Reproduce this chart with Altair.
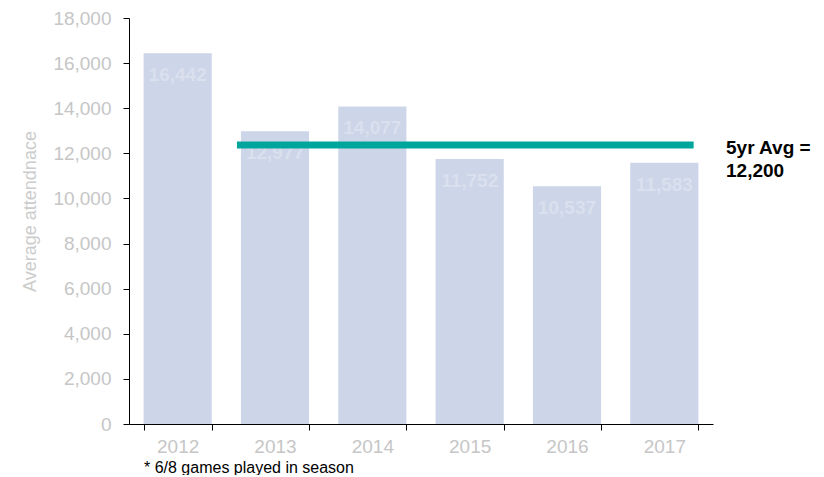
import altair as alt
import pandas as pd

years = ["2012", "2013", "2014", "2015", "2016", "2017"]
attendance = [16442, 12977, 14077, 11752, 10537, 11583]
labels = ["16,442", "12,977", "14,077", "11,752", "10,537", "11,583"]
avg_start_year = "2013"
avg_end_year = "2017"
avg_line_value = 12370
avg_text = ["5yr Avg =", "12,200"]
footnote = "* 6/8 games played in season"
y_title = "Average attendnace"

df = pd.DataFrame({"year": years, "value": attendance, "label": labels})
avg_df = pd.DataFrame({"start": [avg_start_year], "end": [avg_end_year], "v": [avg_line_value]})

W, H = 584, 406
xscale = alt.Scale(domain=years, paddingInner=0.3, paddingOuter=0.15)
yscale = alt.Scale(domain=[0, 18000], nice=False)

bars = alt.Chart(df).mark_bar(color="#cdd5e8").encode(
    x=alt.X("year:N", scale=xscale, sort=years, title=None,
            axis=alt.Axis(labelAngle=0, labelColor="#c6c6c6", labelFontSize=19,
                          labelFont="Liberation Sans", tickBand="extent",
                          domainColor="#000000", tickColor="#000000", tickSize=6,
                          labelPadding=7, grid=False)),
    y=alt.Y("value:Q", scale=yscale,
            axis=alt.Axis(values=list(range(0, 18001, 2000)), format=",d",
                          labelColor="#c6c6c6", labelFontSize=19, labelFont="Liberation Sans",
                          domainColor="#000000", tickColor="#000000", tickSize=6,
                          labelPadding=12, grid=False,
                          title=y_title, titleColor="#cccccc", titleFontSize=18,
                          titleFont="Liberation Sans", titleFontWeight="normal",
                          titleX=-99, titleY=193, titleAngle=270, titleBaseline="middle",
                          titleAlign="center")),
)

bar_text = alt.Chart(df).mark_text(
    color="#dae0ee", fontSize=19, fontWeight="bold", font="Liberation Sans",
    baseline="middle", dy=22
).encode(
    x=alt.X("year:N", scale=xscale, sort=years),
    y=alt.Y("value:Q", scale=yscale),
    text="label:N",
)

avg_line = alt.Chart(avg_df).mark_rule(color="#00a59c", strokeWidth=7, xOffset=-4).encode(
    x=alt.X("start:N", scale=xscale, bandPosition=0),
    x2=alt.X2("end:N", bandPosition=0.93),
    y=alt.Y("v:Q", scale=yscale),
)

avg_label = alt.Chart(pd.DataFrame({"t": [avg_text]})).mark_text(
    align="left", baseline="middle", fontSize=19, fontWeight="bold",
    font="Liberation Sans", color="#000000", lineHeight=23
).encode(
    x=alt.value(W + 13),
    y=alt.value(130),
    text="t",
)

foot = alt.Chart(pd.DataFrame({"t": [footnote]})).mark_text(
    align="left", baseline="middle", fontSize=16, font="Liberation Sans", color="#000000"
).encode(
    x=alt.value(15),
    y=alt.value(H + 44),
    text="t:N",
)

chart = alt.layer(bars, bar_text, avg_line, avg_label, foot).properties(
    width=W, height=H,
    autosize=alt.AutoSizeParams(type="none"),
    padding={"left": 121, "top": 10, "right": 100, "bottom": 51},
).configure_view(stroke=None)

chart.save("out.html", embed_options={"renderer": "svg", "actions": False})
